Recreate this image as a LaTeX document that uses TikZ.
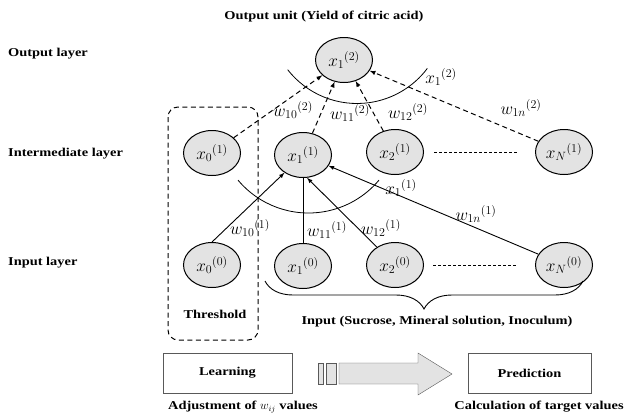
\documentclass[tikz,border=0pt]{standalone}
\usepackage{fontspec}
\setmainfont{Liberation Serif}[FakeStretch=1.2]
\usetikzlibrary{calc, shapes.geometric, decorations.pathreplacing}

\begin{document}
\begin{tikzpicture}[x=1pt,y=-1pt,>=latex,
  neuron/.style={ellipse,draw,line width=1pt,fill=gray!22,minimum width=57pt,minimum height=45pt,inner sep=0pt,font=\fontsize{18}{20}\selectfont},
  weight/.style={inner sep=1pt,font=\fontsize{17}{19}\selectfont},
  layer/.style={anchor=west,inner sep=0pt,font=\bfseries\fontsize{12}{14}\selectfont},
  caption/.style={inner sep=0pt,font=\bfseries\fontsize{12}{14}\selectfont},
  stagebox/.style={draw=gray!70!black,minimum height=40pt,font=\bfseries\fontsize{12}{14}\selectfont},
  link/.style={line width=.9pt},
  dlink/.style={line width=1pt,dash pattern=on 5pt off 3.5pt}]
\useasboundingbox (0,0) rectangle (626,416);
% Draw layer names
\node[layer] (outname) at (8,54) {Output layer};
\node[layer] (midname) at (8,154) {Intermediate layer};
\node[layer] (inname) at (8,263) {Input layer};
\node[caption] (outunit) at (324,17) {Output unit (Yield of citric acid)};
% Draw output unit
\node[neuron] (x12) at (344,60) {${x_1}^{(2)}$};
% Draw intermediate units
\node[neuron] (x01) at (212,153) {${x_0}^{(1)}$};
\node[neuron] (x11) at (303,155) {${x_1}^{(1)}$};
\node[neuron] (x21) at (395,152) {${x_2}^{(1)}$};
\node[neuron] (xN1) at (564,152) {${x_N}^{(1)}$};
% Draw input units
\node[neuron] (x00) at (212,265) {${x_0}^{(0)}$};
\node[neuron] (x10) at (303,266) {${x_1}^{(0)}$};
\node[neuron] (x20) at (395,265) {${x_2}^{(0)}$};
\node[neuron] (xN0) at (564,265) {${x_N}^{(0)}$};
% Draw dots between units
\draw[densely dashed,thin,shorten <=10pt,shorten >=18pt] (x21) -- (xN1);
\draw[densely dashed,thin,shorten <=9pt,shorten >=19pt] (x20) -- (xN0);
% Draw dashed links to output unit
\foreach \u in {x01,x11,x21,xN1}
  \draw[->,dlink] (\u) -- (x12);
% Draw links to intermediate unit
\draw[->,link] (x00.north) -- (x11);
\draw[link] (x10) -- (x11);
\draw[->,link] (x20) -- (x11.-80);
\draw[->,link] (xN0) -- (x11);
% Draw arcs
\coordinate (topc) at (357,15.5);
\coordinate (midc) at (308.5,121);
\draw[line width=.8pt] ($(topc)+(142:88)$) arc [start angle=142, end angle=37, radius=88];
\draw[line width=.8pt] ($(midc)+(140:92)$) arc [start angle=140, end angle=40, radius=92];
\node[weight] (sum2) at (441,77) {${x_1}^{(2)}$};
\node[weight] (sum1) at (401,188) {${x_1}^{(1)}$};
% Weight labels
\node[weight] (w102) at (293,110) {${w_{10}}^{(2)}$};
\node[weight] (w112) at (350,113) {${w_{11}}^{(2)}$};
\node[weight] (w122) at (408,112) {${w_{12}}^{(2)}$};
\node[weight] (w1n2) at (521,108) {${w_{1n}}^{(2)}$};
\node[weight] (w101) at (250,228) {${w_{10}}^{(1)}$};
\node[weight] (w111) at (327,230) {${w_{11}}^{(1)}$};
\node[weight] (w121) at (381,228) {${w_{12}}^{(1)}$};
\node[weight] (w1n1) at (476,214) {${w_{1n}}^{(1)}$};
% Threshold frame
\draw[line width=1pt,dash pattern=on 5pt off 3.5pt,rounded corners=10pt] (168,107) rectangle (258,340);
\node[caption] (thres) at (215,314) {Threshold};
% Brace under inputs
\draw[line width=.9pt,decorate,decoration={brace,mirror,amplitude=28pt}] (265,281) -- (583,281);
\node[caption] (inputs) at (437,322) {Input (Sucrose, Mineral solution, Inoculum)};
% Learning and prediction
\node[stagebox,minimum width=129pt] (learn) at (227.5,373) {Learning};
\node[stagebox,minimum width=123pt] (pred) at (529.5,373) {Prediction};
\draw[gray!70!black,fill=gray!22] (318,363) rectangle (323,384);
\draw[gray!70!black,fill=gray!22] (326,363) rectangle (336,384);
\draw[gray!70!black,fill=gray!22] (339,363) -- (418,363) -- (418,353) -- (452,374) -- (418,395) -- (418,384) -- (339,384) -- cycle;
\node[caption] (adjust) at (243,407) {Adjustment of $w_{ij}$ values};
\node[caption] (calc) at (539,407) {Calculation of target values};
\end{tikzpicture}
\end{document}
